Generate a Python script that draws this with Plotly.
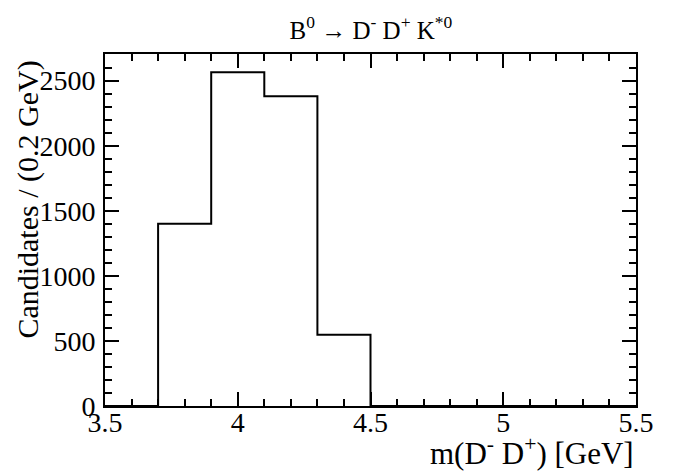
import plotly.graph_objects as go

bin_edges = [3.5, 3.7, 3.9, 4.1, 4.3, 4.5, 4.7, 4.9, 5.1, 5.3, 5.5]
counts = [0, 1400, 2565, 2380, 548, 0, 0, 0, 0, 0]

FONT = "Liberation Serif"

fig = go.Figure()
fig.add_trace(go.Scatter(
    x=bin_edges,
    y=counts + [counts[-1]],
    mode="lines",
    line=dict(shape="hv", color="black", width=2),
    hoverinfo="skip",
    showlegend=False,
))

axis_common = dict(
    showgrid=False, zeroline=False, showline=True, linecolor="black", linewidth=2,
    mirror="allticks", ticks="inside", tickcolor="black", tickwidth=2,
    tickfont=dict(family=FONT, size=28, color="black"),
)

fig.update_xaxes(
    range=[3.5, 5.5], tickmode="array", tickvals=[3.5, 4, 4.5, 5, 5.5],
    ticktext=["3.5", "4", "4.5", "5", "5.5"], ticklen=14, ticklabelstandoff=-10,
    minor=dict(ticks="inside", dtick=0.1, ticklen=7, tickcolor="black", tickwidth=2, showgrid=False),
    **axis_common,
)
fig.update_yaxes(
    range=[0, 2705], tickmode="array", tickvals=[0, 500, 1000, 1500, 2000, 2500],
    ticklen=14, ticklabelstandoff=2,
    minor=dict(ticks="inside", dtick=100, ticklen=7, tickcolor="black", tickwidth=2, showgrid=False),
    **axis_common,
)

fig.update_layout(
    width=698, height=475,
    margin=dict(l=97, r=70, t=46, b=77),
    plot_bgcolor="white", paper_bgcolor="white",
    font=dict(family=FONT, color="black"),
    title=dict(
        text="B<sup>0</sup> \u2192 D<sup>-</sup> D<sup>+</sup> K<sup>*0</sup>",
        x=0.52, xanchor="center", y=0.954, yanchor="middle",
        font=dict(family=FONT, size=25, color="black"),
    ),
    annotations=[
        dict(text="m(D<sup>-</sup> D<sup>+</sup>) [GeV]", xref="paper", yref="paper",
             x=1.0, y=-0.128, xanchor="right", yanchor="middle", showarrow=False,
             font=dict(family=FONT, size=31, color="black")),
        dict(text="Candidates / (0.2 GeV)", xref="paper", yref="paper",
             x=-0.144, y=0.585, xanchor="center", yanchor="middle", textangle=-90, showarrow=False,
             font=dict(family=FONT, size=30, color="black")),
    ],
)

fig.write_html("out.html")
